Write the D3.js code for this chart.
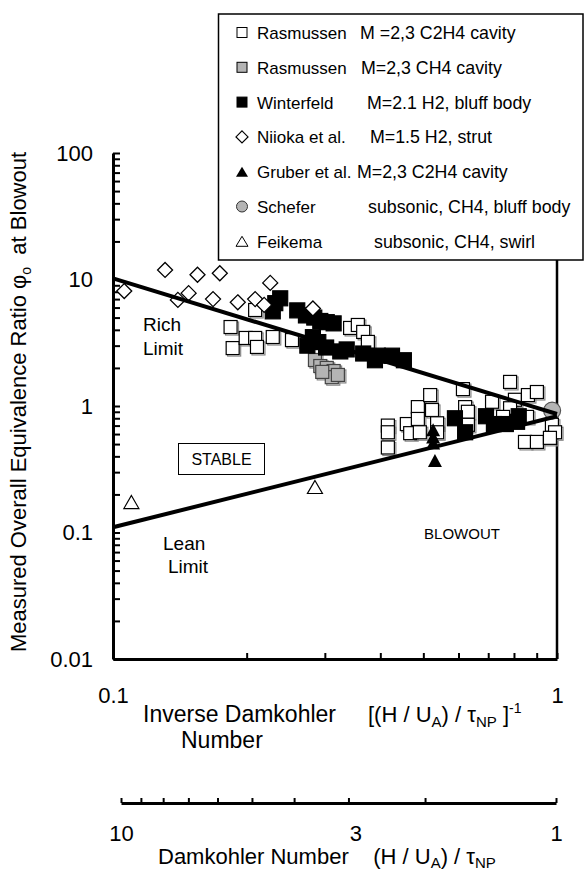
<!DOCTYPE html>
<html><head><meta charset="utf-8">
<script src="https://cdn.jsdelivr.net/npm/d3@7/dist/d3.min.js"></script>
<style>
body{margin:0;background:#fff;}
svg{display:block;font-family:Arial,"Liberation Sans",sans-serif;}
</style></head>
<body><svg id="c" width="586" height="874"></svg>
<script>
// ---- data (x = inverse Damkohler number, y = equivalence ratio at blowout) ----
const rasmussenC2H4 = [
  [0.184,4.21],[0.186,2.87],[0.199,3.45],[0.209,5.74],[0.209,3.45],[0.211,2.93],
  [0.229,3.51],[0.253,3.32],[0.342,4.14],[0.356,4.37],[0.366,3.85],[0.375,3.21],
  [0.416,0.70],[0.416,0.62],[0.416,0.47],[0.459,0.72],[0.467,0.61],[0.486,0.98],
  [0.486,0.79],[0.491,0.62],[0.518,1.22],[0.523,0.93],[0.537,0.73],[0.537,0.62],
  [0.614,1.36],[0.621,0.98],[0.630,0.90],[0.630,0.71],[0.714,1.08],[0.784,1.55],
  [0.804,1.12],[0.784,0.96],[0.756,0.82],[0.860,1.22],[0.901,1.29],[0.856,0.82],
  [0.974,0.71],[0.990,0.62],[0.847,0.52],[0.901,0.52],[0.964,0.56]
];
const rasmussenCH4 = [
  [0.285,2.31],[0.293,2.07],[0.303,2.00],[0.314,1.89],[0.311,1.69],[0.321,1.76],[0.296,1.86]
];
const winterfeld = [
  [0.232,6.5],[0.238,7.1],[0.229,5.6],[0.260,5.7],[0.272,5.2],[0.284,5.0],[0.293,4.7],
  [0.303,4.6],[0.314,4.5],[0.282,3.5],[0.290,3.2],[0.274,3.0],[0.302,2.9],[0.325,2.7],
  [0.336,2.8],[0.366,2.6],[0.395,2.5],[0.425,2.5],[0.389,2.3],[0.452,2.3],
  [0.589,0.80],[0.621,0.62],[0.692,0.83],[0.721,0.72],[0.767,0.72],[0.813,0.75],[0.820,0.83]
];
const niioka = [
  [0.106,8.1],[0.131,11.9],[0.155,10.9],[0.174,11.2],[0.140,6.9],[0.148,7.8],
  [0.168,7.0],[0.191,6.6],[0.209,7.0],[0.219,6.3],[0.226,9.4],[0.282,5.9]
];
const gruber = [[0.526,0.65],[0.526,0.57],[0.526,0.51],[0.531,0.37]];
const schefer = [[0.975,0.92]];
const feikema = [[0.110,0.174],[0.285,0.229]];
const richLimit = [[0.1,10.2],[1,0.865]];
const leanLimit = [[0.1,0.11],[1,0.83]];

const xTickLabels = [0.1, 1];
const yTickLabels = [100, 10, 1, 0.1, 0.01];
const daTickLabels = [10, 3, 1];

const legendNames = ["Rasmussen","Rasmussen","Winterfeld","Niioka et al.","Gruber et al.","Schefer","Feikema"];
const legendDescs = ["M =2,3 C2H4 cavity","M=2,3 CH4 cavity","M=2.1 H2, bluff body","M=1.5 H2, strut","M=2,3 C2H4 cavity","subsonic, CH4, bluff body","subsonic, CH4, swirl"];
const legendDescX = [360, 361, 367, 370, 357, 368, 374];

// ---- scales ----
const svg = d3.select("#c");
const x = d3.scaleLog().domain([0.1, 1]).range([113, 557]);
const y = d3.scaleLog().domain([0.01, 100]).range([659, 153]);
const x2 = d3.scaleLog().domain([10, 1]).range([121, 556]);

function minorTicks(lo, hi){
  const t=[]; for(let d=lo; d<hi*0.99; d*=10){ for(let k=1;k<10;k++){ t.push(+(d*k).toPrecision(3)); } } t.push(hi); return t;
}

// ---- axes ----
const yAxis = svg.append("g").attr("transform","translate(113,0)")
  .call(d3.axisLeft(y).tickValues(minorTicks(0.01,100)).tickSizeInner(-7).tickSizeOuter(0).tickPadding(20)
        .tickFormat(v => yTickLabels.includes(v) ? String(v) : ""));
const xAxis = svg.append("g").attr("transform","translate(0,659)")
  .call(d3.axisBottom(x).tickValues(minorTicks(0.1,1)).tickSizeInner(-6).tickSizeOuter(0).tickPadding(28)
        .tickFormat(v => xTickLabels.includes(v) ? String(v) : ""));
const x2Axis = svg.append("g").attr("transform","translate(0,803)")
  .call(d3.axisBottom(x2).tickValues(minorTicks(1,10)).tickSizeInner(-5).tickSizeOuter(0).tickPadding(22)
        .tickFormat(v => daTickLabels.includes(v) ? String(v) : ""));
[yAxis,xAxis,x2Axis].forEach(g=>{
  g.select(".domain").attr("stroke","#000").attr("stroke-width",3);
  g.selectAll(".tick line").attr("stroke","#000").attr("stroke-width",2);
  g.selectAll("text").attr("font-size",22).attr("fill","#000").attr("font-family","Arial, 'Liberation Sans', sans-serif");
});
x2Axis.selectAll(".tick text").filter(d=>d===3).attr("dx",7);
// right frame
svg.append("line").attr("x1",x(1)).attr("x2",x(1)).attr("y1",y(100)).attr("y2",y(0.01))
  .attr("stroke","#000").attr("stroke-width",2.5);

// ---- markers ----
const plot = svg.append("g");
function squares(data, size, fill, stroke, shadow){
  const g = plot.append("g");
  if(shadow){
    g.selectAll("rect.s").data(data).join("rect")
      .attr("x",d=>x(d[0])-size/2+1.5).attr("y",d=>y(d[1])-size/2+1.5)
      .attr("width",size).attr("height",size).attr("fill","none").attr("stroke","#888").attr("stroke-width",1.2);
  }
  g.selectAll("rect.m").data(data).join("rect")
    .attr("x",d=>x(d[0])-size/2).attr("y",d=>y(d[1])-size/2)
    .attr("width",size).attr("height",size).attr("fill",fill).attr("stroke",stroke).attr("stroke-width",1.2);
}
squares(rasmussenC2H4, 13, "#fff", "#000", true);
squares(rasmussenCH4, 13, "#b4b4b4", "#444", true);
squares(winterfeld, 15, "#000", "#000", false);
plot.append("g").selectAll("path").data(niioka).join("path")
  .attr("d",d=>{const cx=x(d[0]),cy=y(d[1]),r=7.5;return `M${cx},${cy-r}L${cx+r},${cy}L${cx},${cy+r}L${cx-r},${cy}Z`;})
  .attr("fill","#fff").attr("stroke","#000").attr("stroke-width",1.3);
const tri = (cx,cy,w,h)=>`M${cx},${cy-h/2}L${cx+w/2},${cy+h/2}L${cx-w/2},${cy+h/2}Z`;
plot.append("g").selectAll("path").data(gruber).join("path")
  .attr("d",d=>tri(x(d[0]),y(d[1]),14,13)).attr("fill","#000");
plot.append("g").selectAll("circle").data(schefer).join("circle")
  .attr("cx",d=>x(d[0])).attr("cy",d=>y(d[1])).attr("r",8.5)
  .attr("fill","#b4b4b4").attr("stroke","#555").attr("stroke-width",1.2);
plot.append("g").selectAll("path").data(feikema).join("path")
  .attr("d",d=>tri(x(d[0]),y(d[1]),15,13)).attr("fill","#fff").attr("stroke","#000").attr("stroke-width",1.2);

// ---- limit lines ----
const line = d3.line().x(d=>x(d[0])).y(d=>y(d[1]));
[richLimit, leanLimit].forEach(l=>{
  svg.append("path").attr("d",line(l)).attr("fill","none").attr("stroke","#000").attr("stroke-width",4);
});

// ---- annotations ----
function txt(s,px,py,size,anchor){ return svg.append("text").attr("x",px).attr("y",py).attr("font-size",size).attr("text-anchor",anchor||"start").attr("fill","#000").text(s); }
txt("Rich",143,331,19); txt("Limit",143,355,19);
txt("Lean",163,550,19); txt("Limit",168,573,19);
svg.append("rect").attr("x",178.5).attr("y",443.5).attr("width",86).attr("height",31).attr("fill","#fff").attr("stroke","#000").attr("stroke-width",1);
txt("STABLE",221.5,465,16,"middle");
txt("BLOWOUT",462,539,15,"middle");

// ---- legend ----
svg.append("rect").attr("x",218.5).attr("y",14).attr("width",364.5).attr("height",246)
  .attr("fill","#fff").attr("stroke","#000").attr("stroke-width",1.5);
const lg = svg.append("g");
legendNames.forEach((n,i)=>{
  const by = 39 + i*34.8, cy = by-6.5, cx = 242;
  if(i<3){
    lg.append("rect").attr("x",cx-5).attr("y",cy-5).attr("width",10).attr("height",10)
      .attr("fill",["#fff","#b4b4b4","#000"][i]).attr("stroke","#000").attr("stroke-width",1);
  } else if(i===3){
    lg.append("path").attr("d",`M${cx},${cy-6}L${cx+6},${cy}L${cx},${cy+6}L${cx-6},${cy}Z`).attr("fill","#fff").attr("stroke","#000").attr("stroke-width",1.2);
  } else if(i===4){
    lg.append("path").attr("d",tri(cx,cy,12,10)).attr("fill","#000");
  } else if(i===5){
    lg.append("circle").attr("cx",cx).attr("cy",cy).attr("r",5.5).attr("fill","#b4b4b4").attr("stroke","#333").attr("stroke-width",1);
  } else {
    lg.append("path").attr("d",tri(cx,cy,12,10)).attr("fill","#fff").attr("stroke","#000").attr("stroke-width",1);
  }
  lg.append("text").attr("x",257).attr("y",by).attr("font-size",17).text(n);
  lg.append("text").attr("x",legendDescX[i]).attr("y",by).attr("font-size",17.8).text(legendDescs[i]);
});

// ---- axis titles ----
const yt = svg.append("text").attr("transform","translate(26,402) rotate(-90)").attr("text-anchor","middle").attr("font-size",22);
yt.append("tspan").text("Measured Overall Equivalence Ratio φ");
yt.append("tspan").attr("font-size",14).attr("dy",5).text("o");
yt.append("tspan").attr("dy",-5).attr("xml:space","preserve").text("  at Blowout");

txt("Inverse Damkohler",143,722,23);
txt("Number",181,748,23);
const t2 = svg.append("text").attr("x",368).attr("y",722).attr("font-size",22);
t2.append("tspan").text("[(H / U");
t2.append("tspan").attr("font-size",15).attr("dy",5).text("A");
t2.append("tspan").attr("dy",-5).text(") / τ");
t2.append("tspan").attr("font-size",15).attr("dy",5).text("NP");
t2.append("tspan").attr("dy",-5).text(" ]");
t2.append("tspan").attr("font-size",14).attr("dy",-9).text("-1");

const t3 = svg.append("text").attr("x",158).attr("y",864).attr("font-size",22).attr("xml:space","preserve");
t3.append("tspan").text("Damkohler Number    (H / U");
t3.append("tspan").attr("font-size",15).attr("dy",4).text("A");
t3.append("tspan").attr("dy",-4).text(") / τ");
t3.append("tspan").attr("font-size",15).attr("dy",4).text("NP");
</script></body></html>
